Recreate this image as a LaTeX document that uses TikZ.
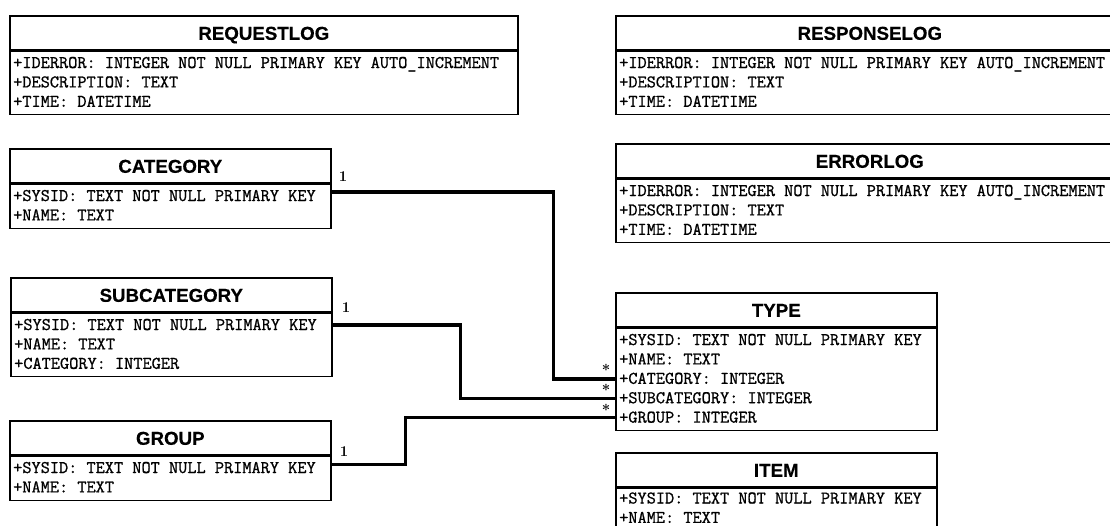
\documentclass[tikz,border=0pt]{standalone}
\usepackage{fontspec}
\newfontfamily\hdrfont{Liberation Sans}[FakeBold=0.4]
\newfontfamily\rowfont{Latin Modern Mono}[FakeBold=1]
\usetikzlibrary{positioning,calc}
\tikzset{
  hdr/.style={draw, line width=1.6pt, anchor=north west, minimum height=34pt,
    inner sep=0pt, text height=14pt, text depth=0pt,
    font=\hdrfont\bfseries\fontsize{18.7}{20}\selectfont},
  tbl/.style={draw, line width=1.6pt, anchor=north west, inner sep=0pt},
  row/.style={anchor=west, inner sep=0pt, text height=13pt, text depth=3pt,
    font=\rowfont\fontsize{17.8}{20}\selectfont},
  link/.style={line width=3.4pt},
  mult/.style={inner sep=0pt, font=\bfseries\fontsize{15}{16}\selectfont}
}
\begin{document}
\begin{tikzpicture}[x=1pt,y=-1pt]
  \useasboundingbox (0,0) rectangle (1110,525);
  \clip (0,0) rectangle (1110,525);
  % log tables
  \node[hdr, minimum width=508pt] (reqhdr) at (9,15) {REQUESTLOG};
  \node[tbl, minimum width=508pt, minimum height=63pt] (reqbox) at (reqhdr.south west) {};
  \foreach \txt [count=\i] in {+IDERROR: INTEGER NOT NULL PRIMARY KEY AUTO\_INCREMENT, +DESCRIPTION: TEXT, +TIME: DATETIME}
    \node[row] (req\i) at (13,{63+19.4*(\i-1)}) {\txt};
  \node[hdr, minimum width=508pt] (reshdr) at (615,15) {RESPONSELOG};
  \node[tbl, minimum width=508pt, minimum height=63pt] (resbox) at (reshdr.south west) {};
  \foreach \txt [count=\i] in {+IDERROR: INTEGER NOT NULL PRIMARY KEY AUTO\_INCREMENT, +DESCRIPTION: TEXT, +TIME: DATETIME}
    \node[row] (res\i) at (619,{63+19.4*(\i-1)}) {\txt};
  \node[hdr, minimum width=508pt] (errhdr) at (615,143) {ERRORLOG};
  \node[tbl, minimum width=508pt, minimum height=63pt] (errbox) at (errhdr.south west) {};
  \foreach \txt [count=\i] in {+IDERROR: INTEGER NOT NULL PRIMARY KEY AUTO\_INCREMENT, +DESCRIPTION: TEXT, +TIME: DATETIME}
    \node[row] (err\i) at (619,{191+19.4*(\i-1)}) {\txt};
  % lookup tables
  \node[hdr, minimum width=321pt] (cathdr) at (9,148) {CATEGORY};
  \node[tbl, minimum width=321pt, minimum height=44pt] (catbox) at (cathdr.south west) {};
  \foreach \txt [count=\i] in {+SYSID: TEXT NOT NULL PRIMARY KEY, +NAME: TEXT}
    \node[row] (cat\i) at (13,{196+19.4*(\i-1)}) {\txt};
  \node[hdr, minimum width=321pt] (subhdr) at (10,277) {SUBCATEGORY};
  \node[tbl, minimum width=321pt, minimum height=63pt] (subbox) at (subhdr.south west) {};
  \foreach \txt [count=\i] in {+SYSID: TEXT NOT NULL PRIMARY KEY, +NAME: TEXT, +CATEGORY: INTEGER}
    \node[row] (sub\i) at (14,{325+19.4*(\i-1)}) {\txt};
  \node[hdr, minimum width=321pt] (grphdr) at (9,420) {GROUP};
  \node[tbl, minimum width=321pt, minimum height=44pt] (grpbox) at (grphdr.south west) {};
  \foreach \txt [count=\i] in {+SYSID: TEXT NOT NULL PRIMARY KEY, +NAME: TEXT}
    \node[row] (grp\i) at (13,{468+19.4*(\i-1)}) {\txt};
  % main tables
  \node[hdr, minimum width=321pt] (typehdr) at (615,292) {TYPE};
  \node[tbl, minimum width=321pt, minimum height=102pt] (typebox) at (typehdr.south west) {};
  \foreach \txt [count=\i] in {+SYSID: TEXT NOT NULL PRIMARY KEY, +NAME: TEXT, +CATEGORY: INTEGER, +SUBCATEGORY: INTEGER, +GROUP: INTEGER}
    \node[row] (type\i) at (619,{340+19.4*(\i-1)}) {\txt};
  \node[hdr, minimum width=321pt] (itemhdr) at (615,452) {ITEM};
  \node[tbl, minimum width=321pt, minimum height=44pt] (itembox) at (itemhdr.south west) {};
  \foreach \txt [count=\i] in {+SYSID: TEXT NOT NULL PRIMARY KEY, +NAME: TEXT}
    \node[row] (item\i) at (619,{498.5+19.4*(\i-1)}) {\txt};
  % relations
  \draw[link] ($(cat1 -| catbox.east)+(0,-4)$) -- ++(222,0) |- (type3 -| typebox.west);
  \draw[link] (sub1 -| subbox.east) -- ++(128,0) |- (type4 -| typebox.west);
  \draw[link] ($(grp1 -| grpbox.east)+(0,-3.5)$) -- ++(74,0) |- (type5 -| typebox.west);
  \node[mult] (catone) at (343,177) {1};
  \node[mult] (subone) at (346,308) {1};
  \node[mult] (grpone) at (344,452) {1};
  \node[mult] (catmany) at (606,370) {*};
  \node[mult] (submany) at (606,390) {*};
  \node[mult] (grpmany) at (606,410) {*};
\end{tikzpicture}
\end{document}
